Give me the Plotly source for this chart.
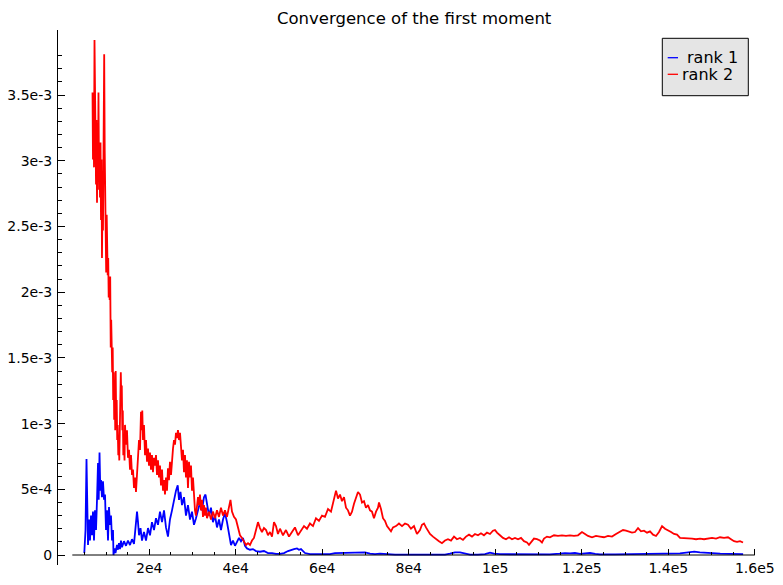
import plotly.graph_objects as go

# ---------------- data (x in thousands, y in units of 1e-4) ----------------
rank1_x_k = [4.97, 5.25, 5.48, 5.64, 5.83, 6.06, 6.29, 6.52, 6.75, 6.98, 7.21, 7.44, 7.68, 7.91, 8.14, 8.30,
             8.49, 8.67, 8.83, 9.06, 9.29, 9.53, 9.76, 9.99, 10.22, 10.45, 10.68, 10.91, 11.14, 11.38, 11.61,
             11.72, 11.95, 12.18, 12.53, 12.76, 12.99, 13.22, 13.45, 13.68, 14.15, 14.61, 15.07, 15.54, 16.00,
             16.46, 16.81, 17.16, 17.39, 17.62, 17.97, 18.31, 18.77, 19.24, 19.70, 20.16, 20.62, 21.09, 21.55,
             22.01, 22.47, 22.94, 23.40, 23.86, 24.32, 24.78, 25.25, 25.71, 26.17, 26.57, 26.87, 27.21, 27.56,
             28.02, 28.48, 28.94, 29.41, 29.87, 30.33, 30.79, 31.26, 31.72, 32.18, 32.64, 32.99, 33.34, 33.80,
             34.26, 34.72, 35.19, 35.65, 36.11, 36.57, 37.04, 37.50, 37.96, 38.42, 38.89, 39.35, 39.81, 40.28,
             40.74, 41.20, 41.66, 42.13, 42.59, 43.28, 43.97, 44.67, 45.59, 46.51, 47.44, 48.37, 49.29, 50.22,
             51.14, 52.07, 52.76, 53.45, 54.15, 54.61, 55.07, 55.54, 56.00, 57.15, 59.46, 61.78, 62.93, 64.09,
             65.25, 66.40, 67.56, 68.72, 69.87, 71.03, 72.19, 73.34, 74.50, 76.81, 79.12, 81.43, 83.74, 86.05,
             88.37, 89.52, 90.68, 91.84, 92.99, 94.15, 96.00, 97.61, 98.77, 99.70, 101.08, 103.4, 105.7, 108.0,
             110.3, 112.6, 114.9, 116.1, 117.3, 118.4, 119.6, 120.7, 121.9, 123.1, 124.2, 127.7, 131.2, 134.6,
             138.1, 140.4, 142.7, 144.6, 146.0, 147.3, 149.7, 152.0, 154.3, 157.3]
rank1_y_e4 = [0.15, 1.9, 7.3, 1.9, 0.76, 2.7, 1.1, 3.0, 1.5, 3.3, 1.1, 3.4, 1.9, 4.2, 7.0, 4.2,
              7.8, 4.9, 5.7, 4.4, 5.6, 4.2, 4.6, 1.9, 3.4, 1.1, 3.65, 2.3, 3.0, 1.1, 1.9,
              0.0, 0.5, 0.15, 0.76, 0.4, 0.9, 0.45, 1.1, 0.6, 1.05, 0.7, 1.1, 0.76, 1.2,
              0.85, 2.3, 3.3, 2.5, 1.5, 2.05, 1.1, 1.75, 1.1, 2.05, 1.5, 2.5, 1.9, 2.8,
              2.3, 3.3, 2.5, 3.4, 2.1, 1.4, 2.7, 3.4, 4.2, 4.9, 5.3, 4.2, 4.8, 3.8,
              4.4, 3.0, 3.8, 2.7, 3.3, 2.3, 2.8, 3.4, 4.0, 3.4, 4.4, 4.6, 3.8, 3.0,
              3.6, 2.5, 3.0, 2.1, 2.7, 1.9, 2.7, 3.2, 2.5, 1.5, 0.76, 1.1, 0.7, 1.0,
              1.3, 1.05, 1.3, 0.7, 0.5, 0.4, 0.45, 0.3, 0.25, 0.3, 0.15, 0.15, 0.08, 0.08,
              0.15, 0.3, 0.4, 0.45, 0.5, 0.4, 0.45, 0.3, 0.15, 0.06, 0.04, 0.06, 0.15, 0.15,
              0.2, 0.15, 0.18, 0.15, 0.2, 0.1, 0.06, 0.1, 0.06, 0.03, 0.03, 0.03, 0.03, 0.02,
              0.03, 0.1, 0.2, 0.2, 0.1, 0.03, 0.03, 0.06, 0.18, 0.1, 0.06, 0.05, 0.04, 0.03,
              0.04, 0.05, 0.1, 0.15, 0.12, 0.15, 0.08, 0.12, 0.15, 0.08, 0.05, 0.04, 0.05, 0.04,
              0.06, 0.1, 0.12, 0.2, 0.25, 0.2, 0.12, 0.1, 0.08, 0.06]

rank2_x_k = [6.87, 6.98, 7.10, 7.21, 7.33, 7.44, 7.56, 7.68, 7.79, 7.91, 8.02, 8.14, 8.25, 8.37, 8.49, 8.60,
             8.72, 8.83, 8.95, 9.06, 9.18, 9.29, 9.41, 9.57, 9.69, 9.80, 9.92, 10.03, 10.15, 10.27, 10.38,
             10.50, 10.61, 10.73, 10.84, 10.96, 11.08, 11.19, 11.31, 11.42, 11.54, 11.65, 11.77, 11.88, 12.00,
             12.12, 12.23, 12.35, 12.46, 12.58, 12.69, 12.83, 12.95, 13.06, 13.18, 13.29, 13.41, 13.53, 13.64,
             13.76, 13.87, 13.99, 14.15, 14.27, 14.38, 14.61, 14.84, 15.07, 15.31, 15.54, 15.77, 16.00, 16.23,
             16.46, 16.69, 16.92, 17.16, 17.39, 17.62, 17.85, 18.08, 18.24, 18.38, 18.54, 18.77, 19.01, 19.24,
             19.47, 19.70, 19.93, 20.16, 20.39, 20.62, 20.85, 21.09, 21.32, 21.55, 21.78, 22.01, 22.24, 22.47,
             22.70, 22.94, 23.17, 23.40, 23.63, 23.86, 24.09, 24.32, 24.55, 24.78, 25.02, 25.25, 25.48, 25.71,
             25.94, 26.17, 26.40, 26.63, 26.87, 27.10, 27.33, 27.56, 27.79, 28.02, 28.25, 28.48, 28.71, 28.94,
             29.18, 29.41, 29.64, 29.87, 30.10, 30.33, 30.56, 30.79, 31.02, 31.26, 31.49, 31.72, 31.95, 32.18,
             32.41, 32.64, 32.87, 33.10, 33.34, 33.80, 34.26, 34.72, 35.19, 35.65, 36.11, 36.57, 37.04, 37.50,
             37.96, 38.42, 38.77, 39.12, 39.58, 40.04, 40.51, 40.97, 41.43, 41.89, 42.36, 42.82, 43.28, 43.74,
             44.20, 44.67, 45.13, 45.59, 46.05, 46.51, 47.0, 47.44, 47.9, 48.37, 48.83, 49.29, 49.75, 50.22,
             50.91, 51.60, 52.30, 52.99, 53.68, 54.38, 55.07, 55.77, 56.46, 57.15, 57.85, 58.54, 59.23, 59.93,
             60.62, 61.32, 62.01, 62.70, 63.17, 63.63, 64.09, 64.55, 65.02, 65.48, 65.94, 66.40, 66.87, 67.33,
             67.79, 68.25, 68.72, 69.18, 69.64, 70.10, 70.57, 71.03, 71.49, 71.95, 72.42, 72.88, 73.11, 73.57,
             74.03, 74.50, 74.96, 75.42, 75.88, 76.35, 77.04, 77.73, 78.43, 79.12, 79.81, 80.50, 81.20, 81.89,
             82.59, 83.05, 83.51, 83.97, 84.44, 84.90, 85.59, 86.29, 86.98, 87.67, 88.37, 89.06, 89.75, 90.45,
             91.14, 91.84, 92.53, 93.22, 93.92, 94.61, 95.30, 96.00, 96.69, 97.38, 98.08, 98.77, 99.46, 99.93,
             100.39, 101.08, 101.78, 102.47, 103.17, 103.86, 104.55, 105.25, 105.94, 106.63, 107.33, 107.79,
             108.25, 108.94, 109.64, 110.33, 110.79, 111.26, 111.95, 112.64, 113.57, 114.49, 115.42, 116.34,
             117.27, 118.19, 119.12, 120.04, 120.74, 121.43, 122.36, 123.28, 124.21, 125.13, 126.06, 126.98,
             127.91, 128.83, 129.53, 130.22, 130.91, 131.61, 132.30, 133.00, 133.69, 134.38, 135.08, 135.77,
             136.47, 137.16, 137.85, 138.55, 139.24, 139.94, 140.63, 141.32, 142.02, 142.71, 143.64, 144.56,
             145.49, 146.41, 147.34, 148.26, 149.19, 150.11, 151.04, 151.96, 152.89, 153.81, 154.50, 155.20,
             155.89, 156.58, 157.28]
rank2_y_e4 = [35.2, 30.1, 34.6, 29.5, 39.2, 33.3, 34.3, 28.2, 33.1, 26.8, 32.7, 27.8, 35.2, 28.9, 31.4, 27.2,
              31.4, 25.5, 30.1, 22.6, 27.0, 24.7, 32.3, 38.1, 30.8, 25.6, 27.0, 21.5, 25.9, 23.2, 21.3,
              22.6, 19.6, 20.9, 19.4, 21.2, 15.8, 17.9, 15.9, 13.9, 15.8, 11.8, 13.9, 10.3, 13.3,
              9.5, 14.0, 10.3, 11.8, 8.75, 9.9, 7.6, 8.9, 7.2, 10.3, 12.9, 13.9, 11.8, 12.9,
              9.5, 11.0, 7.6, 8.75, 7.2, 9.9, 8.4, 9.5, 7.4, 8.0, 6.5, 7.6, 6.1, 6.5,
              5.1, 5.9, 4.8, 6.1, 6.8, 8.75, 8.0, 10.9, 9.5, 11.0, 8.75, 9.9, 7.6, 8.75,
              7.1, 8.1, 6.8, 7.8, 6.5, 7.6, 6.3, 7.4, 6.8, 7.6, 6.1, 7.2, 5.9, 6.8,
              5.3, 6.5, 4.9, 5.7, 4.6, 5.9, 4.9, 6.6, 5.7, 7.1, 6.1, 7.6, 8.1, 8.75,
              8.4, 9.3, 8.9, 9.5, 8.75, 9.3, 8.0, 7.2, 8.0, 6.3, 7.6, 5.9, 7.2, 5.1,
              7.1, 5.9, 6.8, 4.9, 5.9, 4.2, 3.4, 3.0, 3.8, 4.4, 3.8, 4.6, 3.4, 4.2,
              2.9, 3.8, 3.0, 3.6, 2.8, 3.3, 2.7, 3.3, 2.8, 3.4, 2.9, 3.6, 3.0, 3.4,
              2.9, 3.6, 4.2, 3.3, 2.9, 2.7, 2.05, 1.5, 1.3, 1.0, 0.76, 0.9, 0.76, 1.1,
              1.3, 1.9, 2.5, 2.05, 1.75, 2.05, 1.9, 1.5, 1.75, 1.4, 2.5, 2.2, 1.6, 2.0,
              1.5, 1.9, 1.4, 1.75, 2.1, 1.5, 1.9, 2.2, 2.0, 2.4, 2.2, 2.8, 2.6, 3.0,
              2.9, 3.5, 3.3, 4.3, 4.9, 4.3, 4.6, 4.1, 4.4, 3.6, 3.4, 3.0, 3.3, 3.9,
              4.3, 4.8, 4.6, 4.0, 4.1, 3.6, 3.8, 3.4, 3.3, 2.8, 3.3, 3.6, 4.0, 3.5,
              2.8, 2.6, 2.2, 2.0, 1.8, 2.1, 2.2, 2.4, 2.2, 2.4, 2.3, 2.0, 2.2, 1.6,
              1.9, 2.3, 2.4, 2.1, 1.8, 1.6, 1.4, 1.2, 1.05, 0.9, 1.1, 1.2, 1.1, 1.4,
              1.2, 1.3, 1.15, 1.4, 1.55, 1.4, 1.6, 1.5, 1.65, 1.5, 1.7, 1.6, 1.85, 1.9,
              1.7, 1.5, 1.3, 1.2, 1.35, 1.2, 1.3, 1.2, 1.3, 1.05, 0.95, 0.78,
              1.0, 1.25, 1.2, 1.1, 0.95, 1.25, 1.4, 1.35, 1.5, 1.45, 1.5, 1.45,
              1.5, 1.45, 1.5, 1.75, 1.6, 1.45, 1.35, 1.45, 1.4, 1.35, 1.45, 1.4,
              1.6, 1.75, 1.9, 1.85, 1.8, 1.7, 1.75, 2.05, 1.8, 1.85, 1.7, 1.8,
              1.55, 1.45, 1.75, 2.2, 2.0, 1.9, 1.75, 1.6, 1.55, 1.3, 1.3, 1.3,
              1.25, 1.2, 1.25, 1.2, 1.25, 1.3, 1.25, 1.35, 1.3, 1.35, 1.2, 1.05,
              1.0, 1.05, 0.95]

x_tick_values = [20000, 40000, 60000, 80000, 100000, 120000, 140000, 160000]
x_tick_labels = ["2e4", "4e4", "6e4", "8e4", "1e5", "1.2e5", "1.4e5", "1.6e5"]
y_tick_values = [0, 5e-4, 1e-3, 1.5e-3, 2e-3, 2.5e-3, 3e-3, 3.5e-3]
y_tick_labels = ["0", "5e-4", "1e-3", "1.5e-3", "2e-3", "2.5e-3", "3e-3", "3.5e-3"]
series_names = ["rank 1", "rank 2"]
series_colors = ["#0000ff", "#ff0000"]

# ---------------- build figure ----------------
r1x = [v * 1000 for v in rank1_x_k]
r1y = [v * 1e-4 for v in rank1_y_e4]
r2x = [v * 1000 for v in rank2_x_k]
r2y = [v * 1e-4 for v in rank2_y_e4]

x_minor = [v * 5000 for v in range(1, 32) if v % 4 != 0]
y_minor = [v * 1e-4 for v in range(1, 39) if v % 5 != 0]

FONT = "DejaVu Sans"
fig = go.Figure()
fig.add_trace(go.Scatter(x=r1x, y=r1y, mode="lines", name=series_names[0],
                         line=dict(color=series_colors[0], width=1.8), showlegend=False))
fig.add_trace(go.Scatter(x=r2x, y=r2y, mode="lines", name=series_names[1],
                         line=dict(color=series_colors[1], width=1.8), showlegend=False))

W, H = 783, 585
L, R, T, B = 58, 23, 30, 20
plot_w = W - L - R
plot_h = H - T - B

# x-axis pixel scale: 86.5 px per 2e4, zero at px 62.8
x_lo = (L - 62.8) / 86.5 * 20000
x_hi = (W - R - 62.8) / 86.5 * 20000
# y-axis scale: 65.7 px per 5e-4, zero at px 555
y_lo = -(H - B - 555) / 65.7 * 5e-4
y_hi = (555 - T) / 65.7 * 5e-4
x_axis_pos = (H - B - 555) / plot_h

fig.update_layout(
    width=W, height=H,
    margin=dict(l=L, r=R, t=T, b=B, pad=0, autoexpand=False),
    paper_bgcolor="white", plot_bgcolor="white",
    font=dict(family=FONT, size=14, color="black"),
    showlegend=False,
    hovermode=False,
    xaxis=dict(range=[x_lo, x_hi], showgrid=False, zeroline=False, showline=False,
               anchor="free", position=x_axis_pos, automargin=False,
               tickmode="array", tickvals=x_tick_values, ticktext=x_tick_labels,
               ticks="inside", ticklen=6, tickwidth=1, tickcolor="black",
               ticklabelstandoff=3,
               tickfont=dict(family=FONT, size=14, color="black"),
               minor=dict(tickmode="array", tickvals=x_minor, ticks="inside",
                          ticklen=3.5, tickwidth=1, tickcolor="black")),
    yaxis=dict(range=[y_lo, y_hi], domain=[0, 1], showgrid=False, zeroline=False,
               showline=True, linecolor="black", linewidth=1, automargin=False,
               tickmode="array", tickvals=y_tick_values, ticktext=y_tick_labels,
               ticks="inside", ticklen=7, tickwidth=1, tickcolor="black",
               ticklabelstandoff=2,
               tickfont=dict(family=FONT, size=14, color="black"),
               minor=dict(tickmode="array", tickvals=y_minor, ticks="inside",
                          ticklen=3.5, tickwidth=1, tickcolor="black")),
)

# x-axis spine (drawn at y = 0, from the first data region to the last tick)
fig.add_shape(type="line", xref="x", yref="y", x0=2200, x1=x_tick_values[-1], y0=0, y1=0,
              line=dict(color="black", width=1))

# title
fig.add_annotation(text="Convergence of the first moment", xref="paper", yref="paper",
                   x=(414 - L) / plot_w, y=(H - B - 18.5) / plot_h, xanchor="center", yanchor="middle",
                   showarrow=False, font=dict(family=FONT, size=16.5, color="black"))

# legend (manual, matplotlib style)
def px_x(px):
    return (px - L) / plot_w

def px_y(py):
    return (H - B - py) / plot_h

fig.add_shape(type="rect", xref="paper", yref="paper",
              x0=px_x(662.3), x1=px_x(748.3), y0=px_y(95.7), y1=px_y(38.3),
              fillcolor="#e5e5e5", line=dict(color="black", width=1))
for i, (py, tx) in enumerate([(57.7, 686.0), (74.3, 681.0)]):
    fig.add_shape(type="line", xref="paper", yref="paper",
                  x0=px_x(667.7), x1=px_x(678.0), y0=px_y(py), y1=px_y(py),
                  line=dict(color=series_colors[i], width=1.3))
    fig.add_annotation(text=series_names[i], xref="paper", yref="paper",
                       x=px_x(tx), y=px_y(py), xanchor="left", yanchor="middle",
                       showarrow=False, borderpad=0,
                       font=dict(family=FONT, size=16, color="black"))

fig.write_html("out.html", config={"displayModeBar": False})
